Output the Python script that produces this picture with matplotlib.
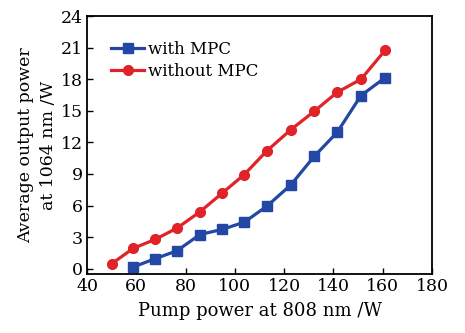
import matplotlib
matplotlib.use("Agg")
import matplotlib.pyplot as plt

x_red = [50, 58.7, 67.6, 76.5, 85.8, 94.8, 103.8, 113.0, 122.7, 132.2, 141.5, 151.2, 161.0]
y_red = [0.47, 1.93, 2.78, 3.85, 5.4, 7.17, 8.94, 11.2, 13.2, 14.95, 16.75, 18.0, 20.75]
x_blue = [58.7, 67.6, 76.5, 85.8, 94.8, 103.8, 113.0, 122.7, 132.2, 141.5, 151.2, 161.0]
y_blue = [0.16, 0.95, 1.7, 3.25, 3.73, 4.42, 5.94, 7.96, 10.67, 12.95, 16.45, 18.15]

xticks = [40, 60, 80, 100, 120, 140, 160, 180]
yticks = [0, 3, 6, 9, 12, 15, 18, 21, 24]

plt.rcParams['font.family'] = ['DejaVu Serif']
fig = plt.figure(figsize=(4.65, 3.33), dpi=100)
ax = fig.add_axes([87/465, 1-274/333, (432-87)/465, (274-16)/333])

blue = '#2347a5'
red = '#e02328'
ax.plot(x_blue, y_blue, color=blue, lw=2.3, marker='s', ms=6.5, label='with MPC')
ax.plot(x_red, y_red, color=red, lw=2.3, marker='o', ms=7, label='without MPC')

ax.set_xlim(40, 180)
ax.set_ylim(-0.5, 24)
ax.set_xticks(xticks)
ax.set_yticks(yticks)
ax.tick_params(direction='in', length=4, width=1, labelsize=12.5, pad=3)
for s in ax.spines.values():
    s.set_linewidth(1.3)
ax.set_xlabel('Pump power at 808 nm /W', fontsize=13, labelpad=5)
ax.set_ylabel('Average output power\nat 1064 nm /W', fontsize=12.5, labelpad=3, linespacing=1.45)
ax.legend(loc='upper left', bbox_to_anchor=(0.05, 0.93), frameon=False, fontsize=12,
          handlelength=2.0, handletextpad=0.2, labelspacing=0.3, borderaxespad=0)
fig.savefig('out.png', dpi=100)
